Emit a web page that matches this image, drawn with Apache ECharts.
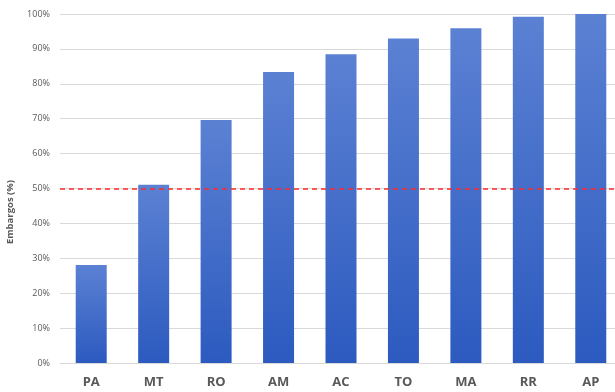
<!DOCTYPE html>
<html>
<head>
<meta charset="utf-8">
<script src="https://cdn.jsdelivr.net/npm/echarts@6/dist/echarts.min.js"></script>
<style>
  html, body { margin: 0; padding: 0; background: #ffffff; overflow: hidden; }
  /* the plot runs a little past the right edge of the window */
  #chart { width: 630px; height: 392px; }
</style>
</head>
<body>
<div id="chart"></div>
<script>
// Share of embargoes per state (%)
const states = ['PA', 'MT', 'RO', 'AM', 'AC', 'TO', 'MA', 'RR', 'AP'];
const embargoPct = [28.1, 51.1, 69.6, 83.4, 88.5, 93.0, 95.9, 99.2, 100];
const referenceLine = 50;
const yTicks = [0, 10, 20, 30, 40, 50, 60, 70, 80, 90, 100];

const chart = echarts.init(document.getElementById('chart'), null, { renderer: 'canvas' });

const font = '"Open Sans", "Liberation Sans", sans-serif';

chart.setOption({
  animation: false,
  backgroundColor: '#ffffff',
  grid: { left: 60, top: 14, width: 562, height: 349, containLabel: false },
  xAxis: {
    type: 'category',
    data: states,
    axisLine: { show: true, lineStyle: { color: '#d9d9d9', width: 1 } },
    axisTick: { show: false },
    axisLabel: {
      color: '#595959',
      fontSize: 13,
      fontWeight: 'bold',
      fontFamily: font,
      margin: 13
    }
  },
  yAxis: {
    type: 'value',
    min: yTicks[0],
    max: yTicks[yTicks.length - 1],
    interval: 10,
    axisLine: { show: false },
    axisTick: { show: false },
    splitLine: { show: true, lineStyle: { color: '#d9d9d9', width: 1 } },
    axisLabel: {
      color: '#595959',
      fontSize: 9,
      fontFamily: font,
      margin: 10,
      formatter: v => v + '%'
    }
  },
  graphic: [{
    type: 'text',
    rotation: Math.PI / 2,
    x: 10,
    y: 212,
    style: {
      text: 'Embargos (%)',
      fill: '#595959',
      font: 'bold 9.5px ' + font,
      textAlign: 'center',
      textVerticalAlign: 'middle'
    }
  }],
  series: [{
    type: 'bar',
    data: embargoPct,
    barWidth: 31,
    itemStyle: {
      color: new echarts.graphic.LinearGradient(0, 0, 0, 1, [
        { offset: 0, color: '#5b81d3' },
        { offset: 1, color: '#2c5abf' }
      ], false)
    },
    markLine: {
      silent: true,
      symbol: 'none',
      label: { show: false },
      lineStyle: { color: '#ff2a2a', type: [5, 4], width: 1.5 },
      data: [{ yAxis: referenceLine }]
    }
  }]
});
</script>
</body>
</html>
